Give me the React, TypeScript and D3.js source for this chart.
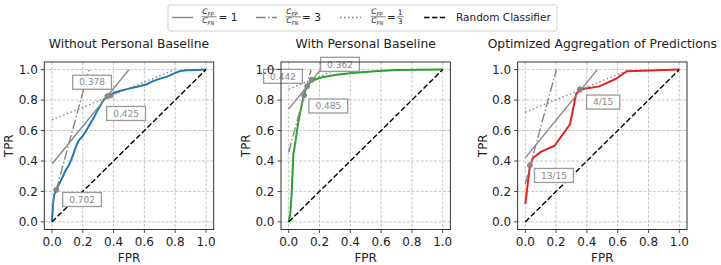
import React from "react";
import * as d3 from "d3";

// ---------- data ----------
const TICKS = [0, 0.2, 0.4, 0.6, 0.8, 1.0];
const TITLES = ["Without Personal Baseline", "With Personal Baseline", "Optimized Aggregation of Predictions"];
const COLORS = ["#1f77b4", "#2ca02c", "#e2231f"];

const rocWithout: [number, number][] = [
  [0, 0], [0.004, 0.067], [0.008, 0.13], [0.015, 0.18], [0.024, 0.209], [0.037, 0.23], [0.054, 0.263],
  [0.071, 0.3], [0.087, 0.335], [0.108, 0.37], [0.126, 0.41], [0.141, 0.452], [0.158, 0.5],
  [0.173, 0.535], [0.195, 0.557], [0.216, 0.589], [0.232, 0.617], [0.253, 0.654], [0.275, 0.691],
  [0.292, 0.726], [0.314, 0.763], [0.335, 0.8], [0.357, 0.822], [0.383, 0.839], [0.411, 0.85],
  [0.444, 0.861], [0.487, 0.872], [0.53, 0.883], [0.574, 0.893], [0.617, 0.904], [0.66, 0.926],
  [0.703, 0.941], [0.747, 0.954], [0.79, 0.974], [0.833, 0.991], [0.877, 0.996], [0.942, 0.998], [1, 1],
];
const rocWith: [number, number][] = [
  [0, 0], [0.01, 0.05], [0.02, 0.2], [0.03, 0.44], [0.045, 0.535], [0.062, 0.654], [0.084, 0.763],
  [0.1, 0.84], [0.12, 0.894], [0.15, 0.926], [0.21, 0.948], [0.3, 0.964], [0.41, 0.977],
  [0.56, 0.99], [0.7, 0.997], [1, 1],
];
const rocOptimized: [number, number][] = [
  [0, 0.117], [0.03, 0.37], [0.05, 0.42], [0.1, 0.46], [0.19, 0.5], [0.29, 0.64], [0.33, 0.84],
  [0.355, 0.87], [0.48, 0.89], [0.59, 0.94], [0.66, 0.99], [1, 1],
];

// cost ratios C_FP/C_FN: 1, 3, 1/3 ; slope = ratio * N/P
const COST_RATIOS = [1, 3, 1 / 3];
const SLOPE_FACTOR = 1.24;
const interceptsWithout = [0.38, 0.106, 0.67];
const interceptsWith = [0.742, 0.459, 0.872];
const interceptsOptimized = [0.42, 0.25, 0.72];

const pointsWithout: [number, number][] = [[0.028, 0.21], [0.36, 0.826], [0.38, 0.83]];
const pointsWith: [number, number][] = [[0.1, 0.831], [0.12, 0.89], [0.15, 0.934]];
const pointsOptimized: [number, number][] = [[0.03, 0.372], [0.355, 0.87]];

const labelsWithout = [
  { text: "0.378", x: 0.26, y: 0.917 },
  { text: "0.425", x: 0.481, y: 0.712 },
  { text: "0.702", x: 0.195, y: 0.147 },
];
const labelsWith = [
  { text: "0.442", x: -0.037, y: 0.956 },
  { text: "0.362", x: 0.333, y: 1.035 },
  { text: "0.485", x: 0.257, y: 0.761 },
];
const labelsOptimized = [
  { text: "4/15", x: 0.506, y: 0.787 },
  { text: "13/15", x: 0.186, y: 0.305 },
];

const PANELS = [
  { roc: rocWithout, intercepts: interceptsWithout, points: pointsWithout, labels: labelsWithout },
  { roc: rocWith, intercepts: interceptsWith, points: pointsWith, labels: labelsWith },
  { roc: rocOptimized, intercepts: interceptsOptimized, points: pointsOptimized, labels: labelsOptimized },
];

// ---------- layout ----------
const W = 721, H = 265;
const FRAME_LEFTS = [44.3, 281, 517.6];
const FRAME_W = 169.4;
const FRAME_TOP = 62;
const FRAME_BOTTOM = 229.5;
const FONT = "DejaVu Sans, sans-serif";
const GRAY = "#858585";
const LINE_DASH = ["none", "9.6,2.4,1.5,2.4", "1.5,2.5"];

function charW(c: string) {
  if (c === ".") return 0.318;
  if (c === "/") return 0.337;
  return 0.636;
}

function Panel({ idx }: { idx: number }) {
  const p = PANELS[idx];
  const left = FRAME_LEFTS[idx];
  const x = d3.scaleLinear().domain([-0.05, 1.05]).range([left, left + FRAME_W]);
  const y = d3.scaleLinear().domain([-0.05, 1.05]).range([FRAME_BOTTOM, FRAME_TOP]);
  const line = d3.line<[number, number]>().x((d) => x(d[0])).y((d) => y(d[1]));
  const cx = left + FRAME_W / 2;
  const cy = (FRAME_TOP + FRAME_BOTTOM) / 2;
  const labelFs = 9;

  return (
    <g>
      {/* grid */}
      {TICKS.map((t) => (
        <g key={"g" + t}>
          <line x1={x(t)} x2={x(t)} y1={FRAME_TOP} y2={FRAME_BOTTOM} stroke="#b8b8b8" strokeWidth={0.8} strokeDasharray="3,1.5" />
          <line x1={left} x2={left + FRAME_W} y1={y(t)} y2={y(t)} stroke="#b8b8b8" strokeWidth={0.8} strokeDasharray="3,1.5" />
        </g>
      ))}
      {/* optimal points (under curve) */}
      {p.points.map((pt, i) => (
        <circle key={"p" + i} cx={x(pt[0])} cy={y(pt[1])} r={2.8} fill="#8c8c8c" />
      ))}
      {/* ROC curve */}
      <path d={line(p.roc) || ""} fill="none" stroke={COLORS[idx]} strokeWidth={2} strokeLinejoin="round" />
      {/* random classifier */}
      <path d={line([[0, 0], [1, 1]]) || ""} fill="none" stroke="#000" strokeWidth={1.4} strokeDasharray="5.5,2.4" />
      {/* iso-cost lines */}
      {COST_RATIOS.map((r, i) => {
        const m = r * SLOPE_FACTOR;
        const b = p.intercepts[i];
        const xEnd = Math.min(1, (1 - b) / m);
        return (
          <path key={"l" + i} d={line([[0, b], [xEnd, b + m * xEnd]]) || ""} fill="none" stroke={GRAY}
            strokeWidth={1.4} strokeDasharray={LINE_DASH[i]} />
        );
      })}
      {/* optimal points (markers, semi-transparent) */}
      {p.points.map((pt, i) => (
        <circle key={"q" + i} cx={x(pt[0])} cy={y(pt[1])} r={2.8} fill="#8c8c8c" fillOpacity={0.6} />
      ))}
      {/* labels */}
      {p.labels.map((lb, i) => {
        const tw = lb.text.split("").reduce((s, c) => s + charW(c), 0) * labelFs;
        const bw = tw + 13;
        const bh = 14;
        return (
          <g key={"lb" + i}>
            <rect x={x(lb.x) - bw / 2} y={y(lb.y) - bh / 2} width={bw} height={bh} fill="#fff" stroke="#9a9a9a" strokeWidth={1.3} />
            <text x={x(lb.x)} y={y(lb.y)} dy="0.36em" textAnchor="middle" fontSize={labelFs} fill="#8a8a8a" fontFamily={FONT}>{lb.text}</text>
          </g>
        );
      })}
      {/* frame */}
      <rect x={left} y={FRAME_TOP} width={FRAME_W} height={FRAME_BOTTOM - FRAME_TOP} fill="none" stroke="#333" strokeWidth={1} />
      {/* ticks */}
      {TICKS.map((t) => (
        <g key={"t" + t}>
          <line x1={x(t)} x2={x(t)} y1={FRAME_BOTTOM} y2={FRAME_BOTTOM + 3.5} stroke="#333" strokeWidth={0.9} />
          <text x={x(t)} y={FRAME_BOTTOM + 16.5} textAnchor="middle" fontSize={12} fill="#222" fontFamily={FONT}>{d3.format(".1f")(t)}</text>
          <line x1={left - 3.5} x2={left} y1={y(t)} y2={y(t)} stroke="#333" strokeWidth={0.9} />
          <text x={left - 6.5} y={y(t)} dy="0.36em" textAnchor="end" fontSize={12} fill="#222" fontFamily={FONT}>{d3.format(".1f")(t)}</text>
        </g>
      ))}
      {/* axis labels */}
      <text x={cx} y={262.3} textAnchor="middle" fontSize={12} fill="#222" fontFamily={FONT}>FPR</text>
      <text transform={`translate(${left - 31},${cy}) rotate(-90)`} textAnchor="middle" fontSize={12} fill="#222" fontFamily={FONT}>TPR</text>
      {/* title */}
      <text x={cx} y={48.3} textAnchor="middle" fontSize={12.3} fill="#222" fontFamily={FONT}>{TITLES[idx]}</text>
    </g>
  );
}

function CostFrac({ x }: { x: number }) {
  return (
    <g fontFamily={FONT} fill="#222">
      <text x={x + 0.5} y={14.2} fontSize={7.5} fontStyle="italic">C<tspan fontSize={5.2} dy={1.3}>FP</tspan></text>
      <line x1={x} x2={x + 15} y1={16.8} y2={16.8} stroke="#222" strokeWidth={0.6} />
      <text x={x + 0.5} y={23.3} fontSize={7.5} fontStyle="italic">C<tspan fontSize={5.2} dy={1.3}>FN</tspan></text>
    </g>
  );
}

function Legend() {
  const hy = 17.5;
  return (
    <g>
      <rect x={168} y={5} width={389} height={26} rx={2} fill="#fff" stroke="#d0d0d0" strokeWidth={1} />
      <line x1={172} x2={193} y1={hy} y2={hy} stroke={GRAY} strokeWidth={1.4} />
      <CostFrac x={201.7} />
      <text x={218.5} y={20.5} fontSize={10.5} fontFamily={FONT} fill="#222">= 1</text>

      <line x1={256} x2={277} y1={hy} y2={hy} stroke={GRAY} strokeWidth={1.4} strokeDasharray={LINE_DASH[1]} />
      <CostFrac x={285.7} />
      <text x={302} y={20.5} fontSize={10.5} fontFamily={FONT} fill="#222">= 3</text>

      <line x1={340} x2={361} y1={hy} y2={hy} stroke={GRAY} strokeWidth={1.4} strokeDasharray={LINE_DASH[2]} />
      <CostFrac x={370.7} />
      <text x={387} y={20.5} fontSize={10.5} fontFamily={FONT} fill="#222">=</text>
      <text x={400.2} y={14.5} fontSize={7.5} textAnchor="middle" fontFamily={FONT} fill="#222">1</text>
      <line x1={397} x2={403.5} y1={16.8} y2={16.8} stroke="#222" strokeWidth={0.6} />
      <text x={400.2} y={23.5} fontSize={7.5} textAnchor="middle" fontFamily={FONT} fill="#222">3</text>

      <line x1={424} x2={445} y1={hy} y2={hy} stroke="#000" strokeWidth={1.4} strokeDasharray="5.5,2.4" />
      <text x={456} y={20.5} fontSize={10.5} fontFamily={FONT} fill="#222">Random Classifier</text>
    </g>
  );
}

export default function App() {
  return (
    <svg width={W} height={H} style={{ position: "absolute", left: 0, top: 0, background: "#fff" }}>
      <rect width={W} height={H} fill="#fff" />
      {PANELS.map((_, i) => (
        <Panel key={i} idx={i} />
      ))}
      <Legend />
    </svg>
  );
}
